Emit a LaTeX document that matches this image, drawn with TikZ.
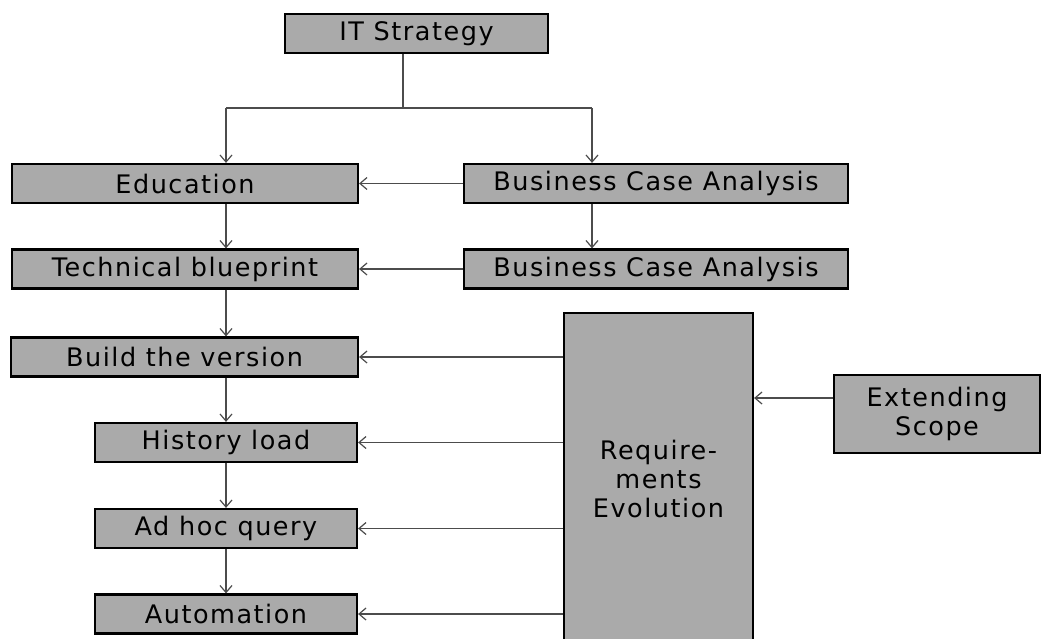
\documentclass[tikz,border=0pt]{standalone}
\usepackage{fontspec}
\setmainfont{DejaVu Sans}[LetterSpace=6]
\usepackage{tikz}
\usepackage{xcolor}
\usetikzlibrary{positioning,arrows.meta,calc}

\definecolor{boxgray}{RGB}{170,170,170}
\tikzset{
  box/.style={draw=black, line width=2.2pt, fill=boxgray, inner sep=0pt,
    minimum height=39pt, align=center,
    font=\fontsize{25.5}{29}\selectfont},
  link/.style={draw=black!70, line width=1.2pt},
  arr/.style={link, -{Straight Barb[length=7pt,width=12pt]}}
}

\begin{document}
\begin{tikzpicture}[x=1pt,y=-1pt]
  \useasboundingbox (0,0) rectangle (1043,638);
  % pixel grid: x right, y down
  \node[box, minimum width=263pt] (strat) at (416.5,33.5) {IT Strategy};
  \node[box, minimum width=346pt] (edu)   at (185,183.5) {Education};
  \node[box, minimum width=346pt] (tech)  at (185,269)   {Technical blueprint};
  \node[box, minimum width=347pt] (build) at (184.5,357) {Build the version};
  \node[box, minimum width=262pt] (hist)  at (226,442.5) {History load};
  \node[box, minimum width=262pt] (adhoc) at (226,528.5) {Ad hoc query};
  \node[box, minimum width=262pt] (auto)  at (226,614)   {Automation};
  \node[box, minimum width=384pt] (bca1)  at (656,183.5) {Business Case Analysis};
  \node[box, minimum width=384pt] (bca2)  at (656,269)   {Business Case Analysis};
  \node[box, minimum width=189pt, minimum height=332pt] (req) at (658.5,479)
    {Require-\\ments\\Evolution};
  \node[box, minimum width=206pt, minimum height=78pt] (ext) at (937,414)
    {Extending\\Scope};
  % top split
  \coordinate (split) at (403,108);
  \coordinate (ldrop) at (226,108);
  \coordinate (rdrop) at (592,108);
  \draw[link] (strat.south -| split) -- (split);
  \draw[link] (ldrop) -- (rdrop);
  \draw[arr] (ldrop) -- (ldrop |- edu.north);
  \draw[arr] (rdrop) -- (rdrop |- bca1.north);
  \draw[arr] (bca1.south -| rdrop) -- (bca2.north -| rdrop);
  % left column
  \foreach \a/\b in {edu/tech,tech/build,build/hist,hist/adhoc,adhoc/auto}
    \draw[arr] (\a.south -| hist.north) -- (\b.north -| hist.north);
  % feeds from the right
  \draw[arr] (bca1) -- (edu);
  \draw[arr] (bca2) -- (tech);
  \foreach \t in {build,hist,adhoc,auto}
    \draw[arr] (req.west |- \t.east) -- (\t.east);
  \draw[arr] ($(ext.west)+(0,-16)$) coordinate (extout) -- (extout -| req.east);
\end{tikzpicture}
\end{document}
